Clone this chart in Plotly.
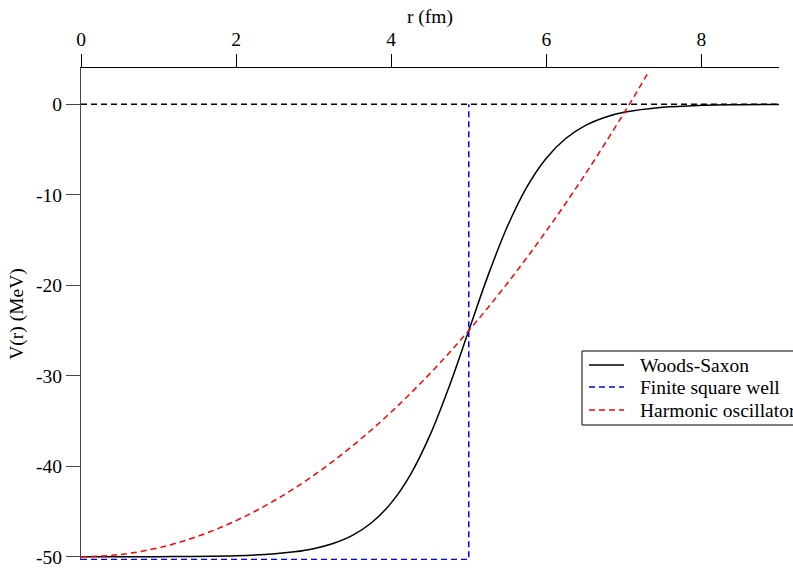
import plotly.graph_objects as go

# Woods-Saxon curve
ws_r = [0, 1, 2, 2.5, 2.75, 3, 3.25, 3.5, 3.75, 4, 4.25, 4.5, 4.75, 5, 5.25, 5.5, 5.75, 6, 6.25, 6.5, 6.75, 7, 7.5, 8, 8.5, 9]
ws_v = [-50.0, -49.98, -49.88, -49.67, -49.45, -49.1, -48.53, -47.63, -46.21, -44.04, -40.88, -36.55, -31.12, -25.0,
        -18.88, -13.45, -9.12, -5.96, -3.79, -2.37, -1.47, -0.9, -0.34, -0.12, -0.05, -0.02]

# Finite square well
sq_r = [0, 5, 5]
sq_v = [-50.3, -50.3, 0]

# Harmonic oscillator
ho_r = [0, 0.5, 1, 1.5, 2, 2.5, 3, 3.5, 4, 4.5, 5, 5.5, 6, 6.5, 7, 7.3]
ho_v = [-50, -49.75, -49, -47.75, -46, -43.75, -41, -37.75, -34, -29.75, -25, -19.75, -14, -7.75, -1, 3.3]

# Zero reference line
zero_r = [0, 9.05]
zero_v = [0, 0]

y_ticks = [0, -10, -20, -30, -40, -50]
y_ticktext = ["0", "-10", "-20", "-30", "-40", "-50"]
x_ticks = [0, 2, 4, 6, 8]

legend_names = ["Woods-Saxon", "Finite square well", "Harmonic oscillator"]
legend_colors = ["black", "blue", "red"]
legend_dash = ["solid", "6px,4px", "6px,4px"]

FONT = "Liberation Serif, Times New Roman, Times, serif"
dash = "6px,4px"

# plot area in pixels (for paper-coordinate conversions of the legend box)
L, R, T, B = 81, 14, 68, 10
PW, PH = 793 - L - R, 570 - T - B


def px_x(px):
    return (px - L) / PW


def px_y(py):
    return (570 - B - py) / PH


fig = go.Figure()
fig.add_trace(go.Scatter(x=zero_r, y=zero_v, mode="lines", showlegend=False,
                         line=dict(color="black", width=1.5, dash=dash), cliponaxis=False))
fig.add_trace(go.Scatter(x=ws_r, y=ws_v, mode="lines", name=legend_names[0], showlegend=False,
                         line=dict(color="black", width=1.5, shape="spline")))
fig.add_trace(go.Scatter(x=sq_r, y=sq_v, mode="lines", name=legend_names[1], showlegend=False,
                         line=dict(color="blue", width=1.5, dash=dash), cliponaxis=False))
fig.add_trace(go.Scatter(x=ho_r, y=ho_v, mode="lines", name=legend_names[2], showlegend=False,
                         line=dict(color="red", width=1.5, dash=dash, shape="spline"), cliponaxis=False))

shapes = [dict(type="rect", xref="paper", yref="paper", x0=px_x(582), x1=px_x(805),
               y0=px_y(425), y1=px_y(351), line=dict(color="black", width=1),
               fillcolor="white", layer="above")]
annotations = [
    dict(text="r (fm)", xref="paper", yref="paper", x=0.5, y=1.104, xanchor="center",
         yanchor="middle", showarrow=False, font=dict(family=FONT, size=19.5)),
    dict(text="V(r) (MeV)", xref="paper", yref="paper", x=-0.092, y=0.5, xanchor="center",
         yanchor="middle", textangle=-90, showarrow=False, font=dict(family=FONT, size=19.5)),
]
row_y = [365, 387, 410]
for name, col, ds, ry in zip(legend_names, legend_colors, legend_dash, row_y):
    shapes.append(dict(type="line", xref="paper", yref="paper", x0=px_x(589), x1=px_x(624),
                       y0=px_y(ry), y1=px_y(ry), line=dict(color=col, width=1.5, dash=ds),
                       layer="above"))
    annotations.append(dict(text=name, xref="paper", yref="paper", x=px_x(638), y=px_y(ry),
                            xanchor="left", yanchor="middle", showarrow=False,
                            font=dict(family=FONT, size=19.5)))

fig.update_layout(
    width=793, height=570,
    margin=dict(l=L, r=R, t=T, b=B, autoexpand=False),
    paper_bgcolor="white", plot_bgcolor="white",
    font=dict(family=FONT, size=19, color="black"),
    showlegend=False,
    xaxis=dict(range=[0, 9], side="top", tickvals=x_ticks, ticks="outside", ticklen=13,
               tickcolor="black", showline=True, linecolor="black", linewidth=1,
               showgrid=False, zeroline=False, tickfont=dict(family=FONT, size=19.5)),
    yaxis=dict(range=[-50.35, 4], tickvals=y_ticks, ticktext=y_ticktext, ticks="outside",
               ticklen=14, tickcolor="#444", showline=True, linecolor="#444", linewidth=1,
               showgrid=False, zeroline=False, tickfont=dict(family=FONT, size=19.5)),
    shapes=shapes,
    annotations=annotations,
)

fig.write_html("out.html", config={"displayModeBar": False},
               post_script="document.body.style.margin='0';")
